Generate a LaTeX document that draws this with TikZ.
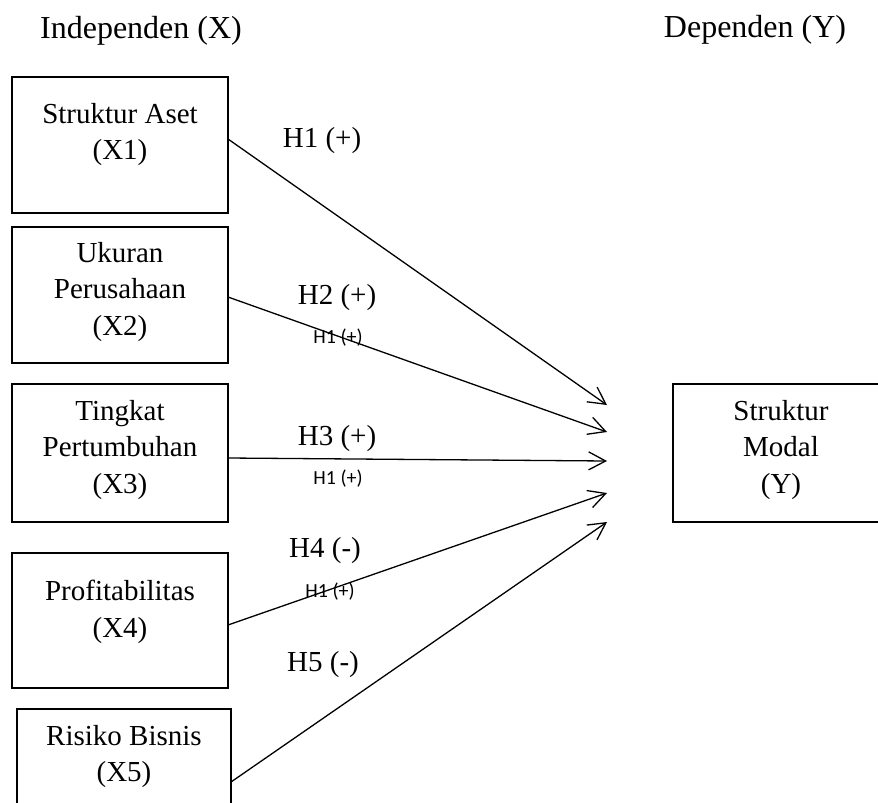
\documentclass[tikz,border=0pt]{standalone}
\usepackage{fontspec}
\setmainfont{Liberation Serif}
\newfontfamily\calib{Carlito}
\usetikzlibrary{arrows.meta}
\tikzset{
  box/.style={draw, line width=1.2pt, minimum width=108pt, inner sep=0pt, outer sep=0pt},
  boxtext/.style={align=center, inner sep=0pt, font=\fontsize{14.5}{18.4}\selectfont},
  head/.style={anchor=base, inner sep=0pt, font=\fontsize{16}{19}\selectfont},
  hlab/.style={anchor=base, inner sep=0pt, font=\fontsize{14.5}{17}\selectfont},
  small/.style={anchor=base, inner sep=0pt, font=\calib\fontsize{10}{12}\selectfont},
  link/.style={line width=0.65pt, -{Straight Barb[length=8.5pt,width=9pt,line width=0.65pt]}}
}
\begin{document}
\begin{tikzpicture}[x=0.5pt,y=-0.5pt]
\clip (0,0) rectangle (878,803);
\fill[white] (0,0) rectangle (878,803);
% headers
\node[head] (hx) at (141,39) {Independen (X)};
\node[head] (hy) at (755,38) {Dependen (Y)};
% boxes
\node[box, minimum height=68pt] (x1) at (120,145) {};
\node[box, minimum height=68pt] (x2) at (120,295) {};
\node[box, minimum height=69pt] (x3) at (120,453) {};
\node[box, minimum height=67.5pt] (x4) at (120,620.5) {};
\node[box, minimum width=107pt, minimum height=68pt] (x5) at (124,777) {};
\node[box, minimum width=108pt, minimum height=69pt] (y) at (781,453) {};
% box texts
\node[boxtext] (x1t) at (120,134.5) {Struktur Aset\\(X1)};
\node[boxtext] (x2t) at (120,292) {Ukuran\\Perusahaan\\(X2)};
\node[boxtext] (x3t) at (120,450) {Tingkat\\Pertumbuhan\\(X3)};
\node[boxtext] (x4t) at (120,611.5) {Profitabilitas\\(X4)};
\node[boxtext] (x5t) at (124,756.5) {Risiko Bisnis\\(X5)};
\node[boxtext] (yt) at (781,450) {Struktur\\Modal\\(Y)};
% arrow tips
\coordinate (t1) at (607,405);
\coordinate (t2) at (607,432);
\coordinate (t3) at (607,461);
\coordinate (t4) at (607,493);
\coordinate (t5) at (607,522);
% connectors
\draw[link] ([yshift=3pt]x1.east) -- (t1);
\draw[link] ([yshift=-1pt]x2.east) -- (t2);
\draw[link] ([yshift=-2.5pt]x3.east) -- (t3);
\draw[link] ([yshift=-2.25pt]x4.east) -- (t4);
\draw[link] ([yshift=-2.5pt]x5.east) -- (t5);
% labels
\node[hlab] (h1) at (322,147) {H1 (+)};
\node[hlab] (h2) at (337,304) {H2 (+)};
\node[small] (s2) at (338,343) {H1 (+)};
\node[hlab] (h3) at (337,445) {H3 (+)};
\node[small] (s3) at (338,484) {H1 (+)};
\node[hlab] (h4) at (325,557) {H4 (-)};
\node[small] (s4) at (330,597) {H1 (+)};
\node[hlab] (h5) at (323,671) {H5 (-)};
\end{tikzpicture}
\end{document}
